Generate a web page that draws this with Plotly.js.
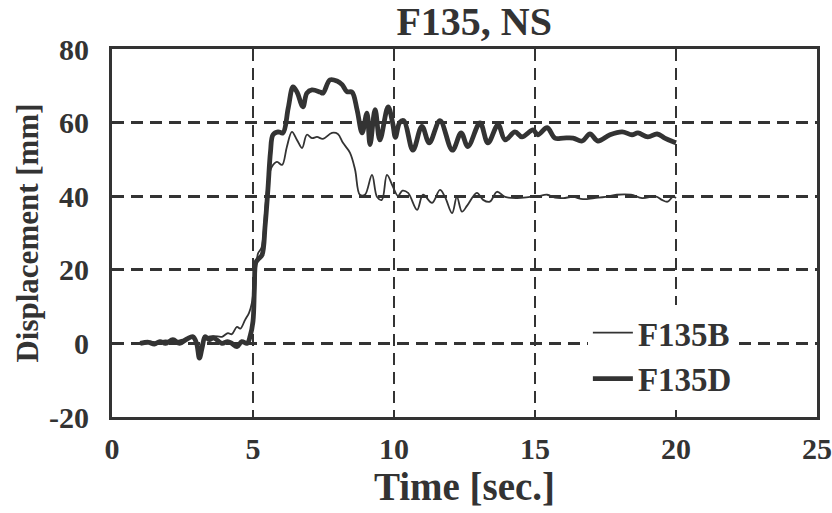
<!DOCTYPE html>
<html>
<head>
<meta charset="utf-8">
<script src="https://cdn.plot.ly/plotly-3.0.1.min.js"></script>
<style>html,body{margin:0;padding:0;background:#fff;}#chart{width:832px;height:513px;}</style>
</head>
<body>
<div id="chart"></div>
<script>
// F135B (thin line)
const timeB = [1.0,1.3,1.6,1.9,2.2,2.5,2.8,3.0,3.1,3.3,3.6,3.9,4.11,4.25,4.43,4.55,4.72,4.86,4.96,5.1,5.18,5.3,5.45,5.55,5.67,5.85,6.03,6.2,6.38,6.56,6.74,6.91,7.09,7.27,7.48,7.8,8.01,8.19,8.44,8.62,8.79,8.97,9.22,9.4,9.57,9.75,9.96,10.14,10.3,10.5,10.82,11.03,11.35,11.63,11.81,12.06,12.23,12.41,12.6,12.94,13.16,13.4,13.65,13.94,14.36,14.82,15.1,15.43,15.71,16.0,16.35,16.7,17.1,17.5,17.9,18.4,18.8,19.3,19.5,19.7,19.9,20.0];
const dispB = [0,0.5,0.3,0.8,0.5,1,1.5,0.5,-1,1.5,2,1.8,2.8,2.5,4.5,4,6.4,8.3,11,20,24.5,26,38,45,48,49.3,48.5,53.4,57.5,55.3,53.1,56.7,55.8,56.1,55.6,57.2,56.9,54.5,51.8,47.2,40.4,40.4,45.8,39.8,39,45.8,42.6,40.1,41.5,40.9,36.3,40.4,38.2,41.7,39.8,35.4,39.8,35.8,37.5,40.9,39,38.5,41.2,39.8,39.5,39.8,40,40.4,39.6,39.5,39.8,39.2,39.5,39.8,40.4,40.4,39.5,39.9,39,38.5,39.9,39.5];
// F135D (thick line)
const timeD = [1.0,1.3,1.5,1.7,1.9,2.16,2.4,2.66,2.87,3.0,3.1,3.2,3.3,3.45,3.6,3.9,4.1,4.25,4.43,4.6,4.79,4.9,5.0,5.05,5.1,5.2,5.32,5.43,5.53,5.62,5.71,5.89,6.06,6.25,6.42,6.56,6.77,6.91,7.09,7.38,7.48,7.73,7.98,8.16,8.33,8.51,8.69,8.87,9.04,9.15,9.33,9.5,9.79,9.95,10.05,10.2,10.35,10.67,10.99,11.25,11.63,12.07,12.38,12.62,13.05,13.33,13.69,13.94,14.29,14.54,14.93,15.1,15.43,15.71,16.0,16.35,16.67,16.95,17.23,17.66,18.09,18.44,18.65,19.0,19.33,19.6,19.9,20.0];
const dispD = [0,0.3,-0.2,0.5,0,1,0,1.2,1.8,0,-4,-1,1.8,1,1.5,0,0.5,0,-0.9,0.5,0,2,6,15,22,23,24,32,42,52,56.7,57.5,57.2,64,69.7,68.3,64.3,68,68.9,68.3,68,71.6,71.3,70.3,68.4,68.3,63.5,57.2,62.6,54,63.5,55.3,64.3,60,56,60,60.5,52.5,59,54.5,60.5,52.5,57.2,53.5,59.9,54.5,59.4,55.3,57.5,56.1,58,56.7,58.6,55.8,55.8,55.8,55,56.9,55,56.7,57.5,56.7,57.2,56.1,56.9,55.8,54.8,54.5];

const xTicks = [0,5,10,15,20,25];
const yTicks = [-20,0,20,40,60,80];

const ink = '#333333';
const serif = '"Liberation Serif","Times New Roman",serif';

const traces = [
  {x: timeB, y: dispB, name: '<b>F135B</b>', type: 'scatter', mode: 'lines',
   line: {color: ink, width: 1.8, shape: 'spline', smoothing: 1}},
  {x: timeD, y: dispD, name: '<b>F135D</b>', type: 'scatter', mode: 'lines',
   line: {color: ink, width: 4.8, shape: 'spline', smoothing: 1}}
];

const layout = {
  width: 832, height: 513,
  margin: {l: 112, r: 15, t: 49, b: 96},
  paper_bgcolor: '#fff', plot_bgcolor: '#fff',
  font: {family: serif, color: ink},
  title: {text: '<b>F135, NS</b>', font: {size: 40, family: serif, color: ink},
          x: 0.57, xanchor: 'center', y: 0.96, yanchor: 'middle'},
  xaxis: {
    range: [0, 25], tickvals: xTicks, ticktext: xTicks.map(v => '<b>' + v + '</b>'),
    showgrid: true, gridcolor: ink, gridwidth: 2.8, griddash: '12px,7px',
    zeroline: false, showline: true, linecolor: ink, linewidth: 3, mirror: true,
    ticks: '', ticklabelstandoff: 3,
    tickfont: {size: 30, family: serif, color: ink},
    title: {text: '<b>Time [sec.]</b>', font: {size: 39, family: serif, color: ink}, standoff: 4}
  },
  yaxis: {
    range: [-20, 80], tickvals: yTicks, ticktext: yTicks.map(v => '<b>' + v + '</b>'),
    showgrid: true, gridcolor: ink, gridwidth: 2.8, griddash: '12px,7px',
    zeroline: false, showline: true, linecolor: ink, linewidth: 3, mirror: true,
    ticks: '', ticklabelstandoff: 14,
    tickfont: {size: 30, family: serif, color: ink},
    title: {text: '<b>Displacement [mm]</b>', font: {size: 31, family: serif, color: ink}, standoff: 2}
  },
  showlegend: true,
  legend: {x: 0.675, y: 0.305, xanchor: 'left', yanchor: 'top',
           bgcolor: '#fff', borderwidth: 0,
           font: {size: 33, family: serif, color: ink}, itemwidth: 40, tracegroupgap: 0}
};

Plotly.newPlot('chart', traces, layout, {displayModeBar: false, staticPlot: true});
</script>
</body>
</html>
